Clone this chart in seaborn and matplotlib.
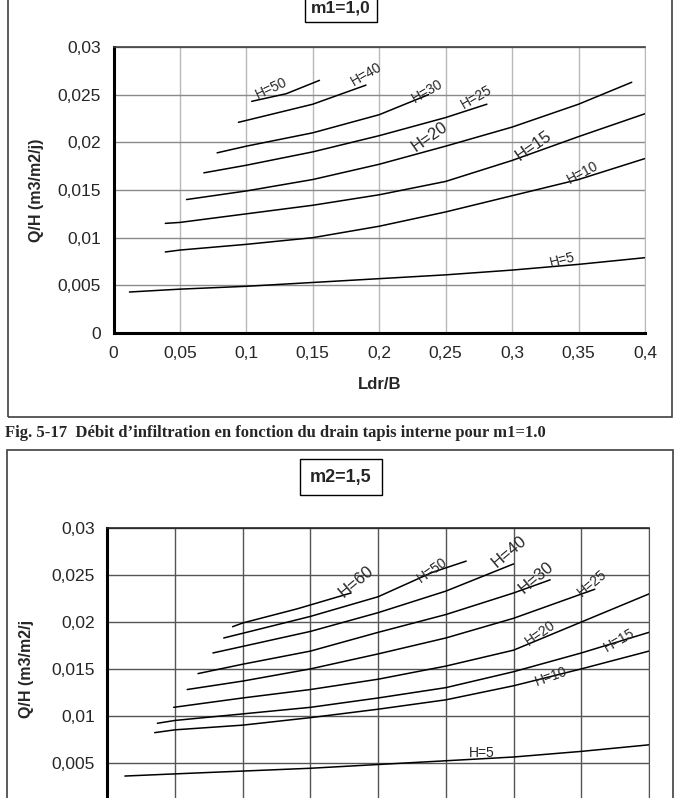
import numpy as np
import pandas as pd
import seaborn as sns
import matplotlib.pyplot as plt
from matplotlib.patches import Rectangle

sns.set_style("white")
plt.rcParams['font.family'] = ['Liberation Sans', 'DejaVu Sans']

# axes ticks (shared by both charts)
x_ticks = [0, 0.05, 0.1, 0.15, 0.2, 0.25, 0.3, 0.35, 0.4]
x_tick_labels = ["0", "0,05", "0,1", "0,15", "0,2", "0,25", "0,3", "0,35", "0,4"]
y_ticks = [0, 0.005, 0.01, 0.015, 0.02, 0.025, 0.03]
y_tick_labels = ["0", "0,005", "0,01", "0,015", "0,02", "0,025", "0,03"]

# ---- chart 1 : m1=1,0  (Q/H vs Ldr/B, one curve per H)
m1_h5_x = [0.012, 0.05, 0.1, 0.15, 0.2, 0.25, 0.3, 0.35, 0.4]
m1_h5_y = [0.0043, 0.0046, 0.0049, 0.0053, 0.0057, 0.0061, 0.0066, 0.0072, 0.0079]
m1_h10_x = [0.039, 0.05, 0.1, 0.15, 0.2, 0.25, 0.3, 0.35, 0.4]
m1_h10_y = [0.0085, 0.0087, 0.0093, 0.0100, 0.0112, 0.0127, 0.0144, 0.0161, 0.0183]
m1_h15_x = [0.039, 0.05, 0.1, 0.15, 0.2, 0.25, 0.3, 0.35, 0.4]
m1_h15_y = [0.0115, 0.0116, 0.0125, 0.0134, 0.0145, 0.0159, 0.0181, 0.0206, 0.0230]
m1_h20_x = [0.055, 0.1, 0.15, 0.2, 0.25, 0.3, 0.35, 0.39]
m1_h20_y = [0.0140, 0.0149, 0.0161, 0.0177, 0.0196, 0.0216, 0.0240, 0.0263]
m1_h25_x = [0.068, 0.1, 0.15, 0.2, 0.25, 0.281]
m1_h25_y = [0.0168, 0.0176, 0.0190, 0.0207, 0.0226, 0.0240]
m1_h30_x = [0.078, 0.1, 0.15, 0.2, 0.237]
m1_h30_y = [0.0189, 0.0196, 0.0210, 0.0229, 0.0250]
m1_h40_x = [0.094, 0.1, 0.15, 0.19]
m1_h40_y = [0.0221, 0.0223, 0.0240, 0.0260]
m1_h50_x = [0.104, 0.13, 0.155]
m1_h50_y = [0.0243, 0.0251, 0.0265]

m1_labels = ["H=5", "H=10", "H=15", "H=20", "H=25", "H=30", "H=40", "H=50"]
m1_label_x = [0.338, 0.353, 0.316, 0.238, 0.2735, 0.236, 0.190, 0.119]
m1_label_y = [0.0077, 0.0168, 0.0196, 0.0206, 0.0247, 0.0254, 0.0271, 0.0257]
m1_label_rot = [14, 28, 35, 35, 30, 30, 30, 25]
m1_label_size = [10, 10, 12, 12, 10, 10, 10, 10]

# ---- chart 2 : m2=1,5
m2_h5_x = [0.013, 0.05, 0.1, 0.15, 0.2, 0.25, 0.3, 0.35, 0.4]
m2_h5_y = [0.00357, 0.0038, 0.0041, 0.0044, 0.0048, 0.0052, 0.0056, 0.0062, 0.0069]
m2_h10_x = [0.035, 0.05, 0.1, 0.15, 0.2, 0.25, 0.3, 0.35, 0.4]
m2_h10_y = [0.0082, 0.0085, 0.0090, 0.0098, 0.0107, 0.0117, 0.0132, 0.0150, 0.0169]
m2_h15_x = [0.037, 0.05, 0.1, 0.15, 0.2, 0.25, 0.3, 0.35, 0.4]
m2_h15_y = [0.0092, 0.0095, 0.0102, 0.0109, 0.0119, 0.0130, 0.0147, 0.0167, 0.0189]
m2_h20_x = [0.049, 0.1, 0.15, 0.2, 0.25, 0.3, 0.35, 0.4]
m2_h20_y = [0.0109, 0.0119, 0.0128, 0.0139, 0.0153, 0.0170, 0.0200, 0.0230]
m2_h25_x = [0.059, 0.1, 0.15, 0.2, 0.25, 0.3, 0.36]
m2_h25_y = [0.0128, 0.0137, 0.0150, 0.0166, 0.0183, 0.0204, 0.0235]
m2_h30_x = [0.067, 0.1, 0.15, 0.2, 0.25, 0.3, 0.327]
m2_h30_y = [0.0145, 0.0155, 0.0169, 0.0189, 0.0208, 0.0231, 0.0245]
m2_h40_x = [0.078, 0.1, 0.15, 0.2, 0.25, 0.3]
m2_h40_y = [0.0167, 0.0174, 0.0190, 0.0210, 0.0233, 0.0262]
m2_h50_x = [0.086, 0.1, 0.15, 0.2, 0.24, 0.265]
m2_h50_y = [0.0183, 0.0188, 0.0206, 0.0227, 0.0253, 0.0265]
m2_h60_x = [0.0925, 0.1, 0.14, 0.18]
m2_h60_y = [0.0195, 0.0199, 0.0214, 0.0231]

m2_labels = ["H=5", "H=10", "H=15", "H=20", "H=25", "H=30", "H=40", "H=50", "H=60"]
m2_label_x = [0.2765, 0.328, 0.378, 0.320, 0.358, 0.317, 0.297, 0.240, 0.184]
m2_label_y = [0.0060, 0.0142, 0.0181, 0.0188, 0.0241, 0.0247, 0.0275, 0.0255, 0.0243]
m2_label_rot = [0, 20, 30, 35, 40, 40, 40, 35, 40]
m2_label_size = [10, 10, 10, 10, 10, 12, 12, 10, 12]


def to_frame(names, xs, ys):
    rows = []
    for n, xv, yv in zip(names, xs, ys):
        for a, b in zip(xv, yv):
            rows.append({"H": n, "Ldr/B": a, "Q/H": b})
    return pd.DataFrame(rows)


df1 = to_frame(m1_labels,
               [m1_h5_x, m1_h10_x, m1_h15_x, m1_h20_x, m1_h25_x, m1_h30_x, m1_h40_x, m1_h50_x],
               [m1_h5_y, m1_h10_y, m1_h15_y, m1_h20_y, m1_h25_y, m1_h30_y, m1_h40_y, m1_h50_y])
df2 = to_frame(m2_labels,
               [m2_h5_x, m2_h10_x, m2_h15_x, m2_h20_x, m2_h25_x, m2_h30_x, m2_h40_x, m2_h50_x, m2_h60_x],
               [m2_h5_y, m2_h10_y, m2_h15_y, m2_h20_y, m2_h25_y, m2_h30_y, m2_h40_y, m2_h50_y, m2_h60_y])

W, H = 678, 798
fig = plt.figure(figsize=(W / 100, H / 100), dpi=100)


def fx(px):
    return px / W


def fy(py):
    return 1 - py / H


# outer chart frames (tops/bottoms run past the page edge)
fig.add_artist(Rectangle((fx(8), fy(417)), fx(664), fy(-20) - fy(417), transform=fig.transFigure,
                         fill=False, ec="#404040", lw=1.2))
fig.add_artist(Rectangle((fx(7), fy(820)), fx(666), fy(450) - fy(820), transform=fig.transFigure,
                         fill=False, ec="#404040", lw=1.2))


def draw_chart(ax, df, names, lx, ly, lrot, lsize, vgrid, hgrid, ylabel, show_xlabel):
    sns.lineplot(data=df, x="Ldr/B", y="Q/H", units="H", estimator=None, sort=False,
                 color="black", lw=1.1, legend=False, ax=ax)
    ax.set_xlim(0, 0.4)
    ax.set_ylim(0, 0.03)
    ax.set_xticks(x_ticks)
    ax.set_xticklabels(x_tick_labels)
    ax.set_yticks(y_ticks)
    ax.set_yticklabels(y_tick_labels)
    for t in x_ticks[1:]:
        ax.axvline(t, color=vgrid, lw=1, zorder=0)
    for t in y_ticks[1:]:
        ax.axhline(t, color=hgrid, lw=1, zorder=0)
    ax.tick_params(axis="both", labelsize=12.5, direction="out", length=5, width=1.6, pad=4)
    for s in ["left", "bottom"]:
        ax.spines[s].set_linewidth(2.2)
        ax.spines[s].set_color("black")
    ax.spines["top"].set_color("#404040")
    ax.spines["right"].set_color(vgrid)
    ax.spines["top"].set_linewidth(1.2)
    ax.set_ylabel(ylabel, fontsize=11.5, fontweight="bold", labelpad=10)
    if show_xlabel:
        ax.set_xlabel("Ldr/B", fontsize=12, fontweight="bold", labelpad=12)
    else:
        ax.set_xlabel("")
    for n, a, b, r, s in zip(names, lx, ly, lrot, lsize):
        ax.text(a, b, n, rotation=r, fontsize=s, ha="center", va="center",
                rotation_mode="anchor")


ax1 = fig.add_axes([fx(113.5), fy(333), fx(645) - fx(113.5), fy(47) - fy(333)])
draw_chart(ax1, df1, m1_labels, m1_label_x, m1_label_y, m1_label_rot, m1_label_size,
           "#b8b8b8", "#8a8a8a", "Q/H (m3/m2/j)", True)

ax2 = fig.add_axes([fx(107.3), fy(809.5), fx(649) - fx(107.3), fy(528.3) - fy(809.5)])
draw_chart(ax2, df2, m2_labels, m2_label_x, m2_label_y, m2_label_rot, m2_label_size,
           "#555555", "#555555", "Q/H (m3/m2/j", False)
ax2.spines["top"].set_color("#222222")
ax2.yaxis.set_label_coords(-0.135, 0.5)
# the lower chart runs off the page: its x labels and the "0" label are not visible
ax2.tick_params(axis="x", labelbottom=False)
ax2.get_yticklabels()[0].set_visible(False)

# chart titles in boxes
fig.text(fx(341), fy(8), "m1=1,0", ha="center", va="center", fontsize=12.5, fontweight="bold",
         bbox=dict(boxstyle="square,pad=0.35", fc="white", ec="black", lw=1))
fig.text(fx(341), fy(477), "m2=1,5", ha="center", va="center", fontsize=13, fontweight="bold",
         bbox=dict(boxstyle="square,pad=0.55", fc="white", ec="black", lw=1))

# caption of the first figure
fig.text(fx(5), fy(433), "Fig. 5-17  Débit d\u2019infiltration en fonction du drain tapis interne pour m1=1.0",
         ha="left", va="center", fontsize=12, fontweight="bold",
         family=["Liberation Serif", "DejaVu Serif"])

fig.savefig("out.png", dpi=100)
